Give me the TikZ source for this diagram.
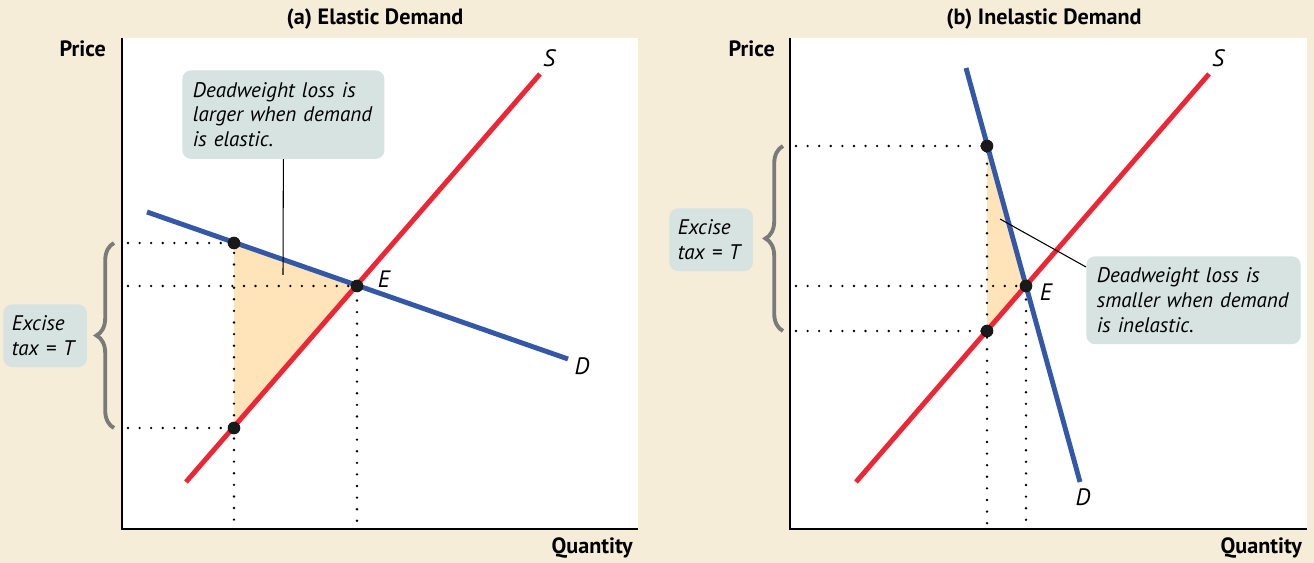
\documentclass[tikz,border=0pt]{standalone}
\usepackage{fontspec}
\setmainfont{PT Sans}
\usetikzlibrary{positioning, calc, decorations.pathreplacing}
\definecolor{kremlatar}{RGB}{246,237,216}
\definecolor{merahkurva}{RGB}{236,38,52}
\definecolor{birukurva}{RGB}{52,88,168}
\definecolor{oranyedwl}{RGB}{254,228,184}
\definecolor{abukotak}{RGB}{214,227,225}
\definecolor{abukurung}{RGB}{122,122,122}

\tikzset{
  kurvaS/.style={draw=merahkurva, line width=2.8pt},
  kurvaD/.style={draw=birukurva, line width=2.8pt},
  garistitik/.style={line width=1.5pt, dash pattern=on 0pt off 6.6pt, dash phase=3.2pt,
    line cap=round},
  titik/.style={circle, fill=black!90, inner sep=0pt, minimum size=7.2pt},
  kotak/.style={fill=abukotak, rounded corners=5pt, align=left, anchor=north west,
    inner xsep=6pt, font=\itshape\fontsize{12}{14.2}\selectfont},
  judul/.style={font=\bfseries\fontsize{12.6}{15}\selectfont},
  kurung/.style={draw=abukurung, line width=2.2pt, decorate,
    decoration={brace, amplitude=10pt}},
  labelkurva/.style={font=\itshape\fontsize{13.5}{15}\selectfont}
}

\begin{document}
\begin{tikzpicture}[x=0.02cm, y=-0.02cm]
  \useasboundingbox (0,0) rectangle (1314,563);
  \fill[kremlatar] (0,0) rectangle (1314,563);

  % (a) elastis
  \coordinate (aO) at (122,529);
  \coordinate (aA) at (234,243);
  \coordinate (aE) at (357,286);
  \coordinate (aB) at (234,428);
  \fill[white] (122,38) rectangle (638,529);
  \fill[oranyedwl] (aA) -- (aE) -- (aB) -- cycle;
  \draw[garistitik] (aO |- aA) -- (aA) -- (aO -| aA);
  \draw[garistitik] (aO |- aE) -- (aE) -- (aO -| aE);
  \draw[garistitik] (aO |- aB) -- (aB);
  \draw[kurvaS] (186,482) coordinate (aS0) -- (540,74) coordinate (aS1);
  \draw[kurvaD] (147,212) coordinate (aD0) -- (568,359) coordinate (aD1);
  \node[titik] (taA) at (aA) {};
  \node[titik] (taE) at (aE) {};
  \node[titik] (taB) at (aB) {};
  \node[labelkurva] (laS) at (549,58) {S};
  \node[labelkurva] (laD) at (582,366) {D};
  \node[labelkurva] (laE) at (384,279) {E};
  \draw[line width=1pt] (122,38) -- (aO) -- (638,529);
  \node[judul] (judulA) at (375,19) {(a) Elastic Demand};
  \node[judul, anchor=east] (hargaA) at (112,49) {Price};
  \node[judul, anchor=east] (kuantA) at (639,548) {Quantity};
  \node[kotak, text width=103pt, minimum height=50.4pt] (kotakA) at (182,70)
    {Deadweight loss is\\larger when demand\\is elastic.};
  \coordinate (tunjukA) at (283,275);
  \draw[line width=0.6pt] (kotakA.south) -- (tunjukA);
  \draw[kurung] (114,428) -- (114,243);
  \node[kotak, text width=38pt, inner xsep=4.8pt, minimum height=35.7pt] (pajakA)
    at (3,304) {Excise\\tax = T};

  % (b) inelastis
  \coordinate (bO) at (790,529);
  \coordinate (bA) at (987,146);
  \coordinate (bE) at (1026,286);
  \coordinate (bB) at (987,331);
  \fill[white] (790,38) rectangle (1307,529);
  \fill[oranyedwl] (bA) -- (bE) -- (bB) -- cycle;
  \draw[garistitik] (bO |- bA) -- (bA) -- (bO -| bA);
  \draw[garistitik] (bO |- bE) -- (bE) -- (bO -| bE);
  \draw[garistitik] (bO |- bB) -- (bB);
  \draw[kurvaS] (856,482) coordinate (bS0) -- (1209,74) coordinate (bS1);
  \draw[kurvaD] (966,68) coordinate (bD0) -- (1080,482) coordinate (bD1);
  \node[titik] (tbA) at (bA) {};
  \node[titik] (tbE) at (bE) {};
  \node[titik] (tbB) at (bB) {};
  \node[labelkurva] (lbS) at (1218,58) {S};
  \node[labelkurva] (lbD) at (1083,497) {D};
  \node[labelkurva] (lbE) at (1046,292) {E};
  \draw[line width=1pt] (790,38) -- (bO) -- (1307,529);
  \node[judul] (judulB) at (1044,19) {(b) Inelastic Demand};
  \node[judul, anchor=east] (hargaB) at (781,49) {Price};
  \node[judul, anchor=east] (kuantB) at (1308,548) {Quantity};
  \node[kotak, text width=110pt, minimum height=50pt] (kotakB) at (1086,256)
    {Deadweight loss is\\smaller when demand\\is inelastic.};
  \coordinate (tunjukB) at (1000,219);
  \draw[line width=0.6pt] (tunjukB) -- ($(kotakB.north west)+(0,11)$);
  \draw[kurung] (783,331) -- (783,146);
  \node[kotak, text width=38pt, inner xsep=4.8pt, minimum height=35.7pt] (pajakB)
    at (669,208) {Excise\\tax = T};
\end{tikzpicture}
\end{document}
